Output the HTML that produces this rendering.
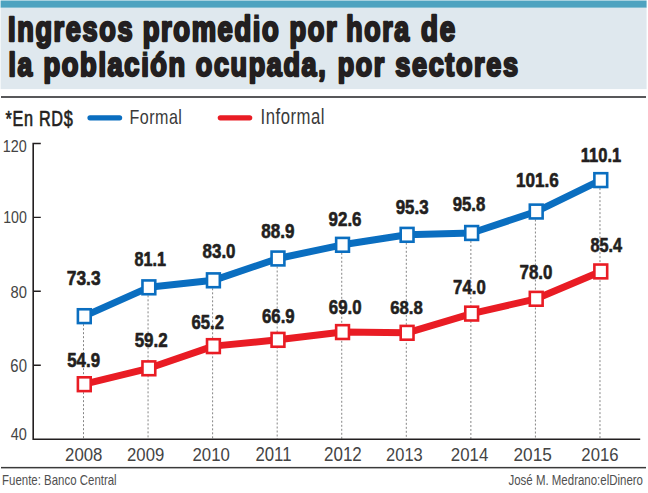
<!DOCTYPE html>
<html><head><meta charset="utf-8"><style>html,body{margin:0;padding:0;background:#fff;width:648px;height:493px;overflow:hidden}svg{display:block}</style></head>
<body><svg width="648" height="493" viewBox="0 0 648 493" font-family="Liberation Sans" font-size="100">
<rect x="0" y="0" width="648" height="493" fill="#fff"/>
<rect x="0.6" y="0.5" width="646" height="7.3" fill="#4ea3c0"/>
<rect x="0.6" y="7.8" width="646" height="81.3" fill="#dfe8ee"/>
<rect x="1" y="96" width="645" height="2" fill="#58585a"/>
<line x1="90.0" y1="117.8" x2="119.6" y2="117.8" stroke="#0a6ec0" stroke-width="5.2" stroke-linecap="round"/>
<line x1="220.3" y1="117.8" x2="249.7" y2="117.8" stroke="#e91c24" stroke-width="5.2" stroke-linecap="round"/>
<g stroke="#858585" stroke-width="1" stroke-dasharray="2 2"><line x1="83.50" y1="316.17" x2="83.50" y2="439" /><line x1="148.06" y1="287.33" x2="148.06" y2="439" /><line x1="212.62" y1="280.31" x2="212.62" y2="439" /><line x1="277.18" y1="258.49" x2="277.18" y2="439" /><line x1="341.74" y1="244.81" x2="341.74" y2="439" /><line x1="406.30" y1="234.83" x2="406.30" y2="439" /><line x1="470.86" y1="232.98" x2="470.86" y2="439" /><line x1="535.42" y1="211.53" x2="535.42" y2="439" /><line x1="599.98" y1="180.11" x2="599.98" y2="439" /></g>
<path d="M40.8 143.5 H33.2 V439.2 H640.2" fill="none" stroke="#231f20" stroke-width="1.6"/>
<path d="M33.2 217.4 H40.8 M33.2 291.3 H40.8 M33.2 365.3 H40.8" fill="none" stroke="#231f20" stroke-width="1.4"/>
<rect x="1" y="466.9" width="645" height="1.5" fill="#3a3a3a"/>
<polyline points="84.30,316.17 148.86,287.33 213.42,280.31 277.98,258.49 342.54,244.81 407.10,234.83 471.66,232.98 536.22,211.53 600.78,180.11" fill="none" stroke="#0a6ec0" stroke-width="7.0" stroke-linejoin="round"/>
<polyline points="84.30,384.21 148.86,368.31 213.42,346.12 277.98,339.84 342.54,332.07 407.10,332.81 471.66,313.59 536.22,298.80 600.78,271.43" fill="none" stroke="#e91c24" stroke-width="7.0" stroke-linejoin="round"/>
<rect x="77.90" y="309.27" width="12.8" height="13.8" fill="#fff" stroke="#0a6ec0" stroke-width="2.6"/><rect x="142.46" y="280.43" width="12.8" height="13.8" fill="#fff" stroke="#0a6ec0" stroke-width="2.6"/><rect x="207.02" y="273.41" width="12.8" height="13.8" fill="#fff" stroke="#0a6ec0" stroke-width="2.6"/><rect x="271.58" y="251.59" width="12.8" height="13.8" fill="#fff" stroke="#0a6ec0" stroke-width="2.6"/><rect x="336.14" y="237.91" width="12.8" height="13.8" fill="#fff" stroke="#0a6ec0" stroke-width="2.6"/><rect x="400.70" y="227.93" width="12.8" height="13.8" fill="#fff" stroke="#0a6ec0" stroke-width="2.6"/><rect x="465.26" y="226.08" width="12.8" height="13.8" fill="#fff" stroke="#0a6ec0" stroke-width="2.6"/><rect x="529.82" y="204.63" width="12.8" height="13.8" fill="#fff" stroke="#0a6ec0" stroke-width="2.6"/><rect x="594.38" y="173.21" width="12.8" height="13.8" fill="#fff" stroke="#0a6ec0" stroke-width="2.6"/>
<rect x="77.90" y="377.31" width="12.8" height="13.8" fill="#fff" stroke="#e91c24" stroke-width="2.6"/><rect x="142.46" y="361.41" width="12.8" height="13.8" fill="#fff" stroke="#e91c24" stroke-width="2.6"/><rect x="207.02" y="339.22" width="12.8" height="13.8" fill="#fff" stroke="#e91c24" stroke-width="2.6"/><rect x="271.58" y="332.94" width="12.8" height="13.8" fill="#fff" stroke="#e91c24" stroke-width="2.6"/><rect x="336.14" y="325.17" width="12.8" height="13.8" fill="#fff" stroke="#e91c24" stroke-width="2.6"/><rect x="400.70" y="325.91" width="12.8" height="13.8" fill="#fff" stroke="#e91c24" stroke-width="2.6"/><rect x="465.26" y="306.69" width="12.8" height="13.8" fill="#fff" stroke="#e91c24" stroke-width="2.6"/><rect x="529.82" y="291.90" width="12.8" height="13.8" fill="#fff" stroke="#e91c24" stroke-width="2.6"/><rect x="594.38" y="264.53" width="12.8" height="13.8" fill="#fff" stroke="#e91c24" stroke-width="2.6"/>
<text transform="matrix(0.27121 0 0 0.34306 8.086 40.800)" font-weight="bold" letter-spacing="6" fill="#231f20" stroke="#231f20" stroke-width="7" stroke-linejoin="round">Ingresos</text><text transform="matrix(0.27348 0 0 0.34306 142.680 40.800)" font-weight="bold" letter-spacing="6" fill="#231f20" stroke="#231f20" stroke-width="7" stroke-linejoin="round">promedıo</text><text transform="matrix(0.27348 0 0 0.34306 142.680 40.800)" font-weight="bold" letter-spacing="6" fill="#231f20" stroke="#231f20" stroke-width="2.5">promedio</text><text transform="matrix(0.27267 0 0 0.34306 289.382 40.800)" font-weight="bold" letter-spacing="6" fill="#231f20" stroke="#231f20" stroke-width="7" stroke-linejoin="round">por</text><text transform="matrix(0.26737 0 0 0.34306 346.298 40.800)" font-weight="bold" letter-spacing="6" fill="#231f20" stroke="#231f20" stroke-width="7" stroke-linejoin="round">hora</text><text transform="matrix(0.27787 0 0 0.34306 421.122 40.800)" font-weight="bold" letter-spacing="6" fill="#231f20" stroke="#231f20" stroke-width="7" stroke-linejoin="round">de</text><text transform="matrix(0.26444 0 0 0.33750 8.507 76.200)" font-weight="bold" letter-spacing="6" fill="#231f20" stroke="#231f20" stroke-width="7" stroke-linejoin="round">la</text><text transform="matrix(0.27243 0 0 0.33750 43.583 76.200)" font-weight="bold" letter-spacing="6" fill="#231f20" stroke="#231f20" stroke-width="7" stroke-linejoin="round">poblacıón</text><text transform="matrix(0.27243 0 0 0.33750 43.583 76.200)" font-weight="bold" letter-spacing="6" fill="#231f20" stroke="#231f20" stroke-width="2.5">población</text><text transform="matrix(0.27008 0 0 0.33750 195.800 76.200)" font-weight="bold" letter-spacing="6" fill="#231f20" stroke="#231f20" stroke-width="7" stroke-linejoin="round">ocupada,</text><text transform="matrix(0.26919 0 0 0.33750 337.692 76.200)" font-weight="bold" letter-spacing="6" fill="#231f20" stroke="#231f20" stroke-width="7" stroke-linejoin="round">por</text><text transform="matrix(0.27064 0 0 0.33750 395.300 76.200)" font-weight="bold" letter-spacing="6" fill="#231f20" stroke="#231f20" stroke-width="7" stroke-linejoin="round">sectores</text><text transform="matrix(0.16247 0 0 0.21286 5.600 125.700)" font-weight="normal" letter-spacing="4" fill="#231f20" stroke="#231f20" stroke-width="3" stroke-linejoin="round">*En RD$</text><text transform="matrix(0.16122 0 0 0.20274 129.410 123.900)" font-weight="normal" letter-spacing="3" fill="#3a3a3a">Formal</text><text transform="matrix(0.16703 0 0 0.21884 260.597 124.000)" font-weight="normal" letter-spacing="3" fill="#3a3a3a">Informal</text><text transform="matrix(0.14387 0 0 0.16232 2.849 151.700)" font-weight="normal" letter-spacing="0" fill="#444444">120</text><text transform="matrix(0.14194 0 0 0.16667 3.165 223.200)" font-weight="normal" letter-spacing="0" fill="#444444">100</text><text transform="matrix(0.14757 0 0 0.17000 10.510 297.600)" font-weight="normal" letter-spacing="0" fill="#444444">80</text><text transform="matrix(0.14902 0 0 0.17571 10.355 371.600)" font-weight="normal" letter-spacing="0" fill="#444444">60</text><text transform="matrix(0.14476 0 0 0.16087 10.810 440.200)" font-weight="normal" letter-spacing="0" fill="#444444">40</text><text transform="matrix(0.16808 0 0 0.19286 65.060 460.800)" font-weight="normal" letter-spacing="0" fill="#444444">2008</text><text transform="matrix(0.16714 0 0 0.19286 127.064 460.800)" font-weight="normal" letter-spacing="0" fill="#444444">2009</text><text transform="matrix(0.16808 0 0 0.19286 192.460 460.800)" font-weight="normal" letter-spacing="0" fill="#444444">2010</text><text transform="matrix(0.16780 0 0 0.19286 255.461 460.800)" font-weight="normal" letter-spacing="0" fill="#444444">2011</text><text transform="matrix(0.17028 0 0 0.19286 323.949 460.800)" font-weight="normal" letter-spacing="0" fill="#444444">2012</text><text transform="matrix(0.16479 0 0 0.19286 386.076 460.800)" font-weight="normal" letter-spacing="0" fill="#444444">2013</text><text transform="matrix(0.16869 0 0 0.19286 450.857 460.800)" font-weight="normal" letter-spacing="0" fill="#444444">2014</text><text transform="matrix(0.17230 0 0 0.19286 513.538 460.800)" font-weight="normal" letter-spacing="0" fill="#444444">2015</text><text transform="matrix(0.16714 0 0 0.19286 581.364 460.800)" font-weight="normal" letter-spacing="0" fill="#444444">2016</text><text transform="matrix(0.17354 0 0 0.20704 66.779 285.100)" font-weight="bold" letter-spacing="0" fill="#231f20" stroke="#231f20" stroke-width="3" stroke-linejoin="round">73.3</text><text transform="matrix(0.16230 0 0 0.20986 134.475 265.500)" font-weight="bold" letter-spacing="0" fill="#231f20" stroke="#231f20" stroke-width="3" stroke-linejoin="round">81.1</text><text transform="matrix(0.16947 0 0 0.20000 202.561 258.300)" font-weight="bold" letter-spacing="0" fill="#231f20" stroke="#231f20" stroke-width="3" stroke-linejoin="round">83.0</text><text transform="matrix(0.17053 0 0 0.20704 261.259 237.800)" font-weight="bold" letter-spacing="0" fill="#231f20" stroke="#231f20" stroke-width="3" stroke-linejoin="round">88.9</text><text transform="matrix(0.16947 0 0 0.20423 328.561 225.900)" font-weight="bold" letter-spacing="0" fill="#231f20" stroke="#231f20" stroke-width="3" stroke-linejoin="round">92.6</text><text transform="matrix(0.16895 0 0 0.20000 395.662 213.800)" font-weight="bold" letter-spacing="0" fill="#231f20" stroke="#231f20" stroke-width="3" stroke-linejoin="round">95.3</text><text transform="matrix(0.16754 0 0 0.19577 452.665 211.400)" font-weight="bold" letter-spacing="0" fill="#231f20" stroke="#231f20" stroke-width="3" stroke-linejoin="round">95.8</text><text transform="matrix(0.17119 0 0 0.20563 516.044 187.100)" font-weight="bold" letter-spacing="0" fill="#231f20" stroke="#231f20" stroke-width="3" stroke-linejoin="round">101.6</text><text transform="matrix(0.16513 0 0 0.20986 580.774 161.800)" font-weight="bold" letter-spacing="0" fill="#231f20" stroke="#231f20" stroke-width="3" stroke-linejoin="round">110.1</text><text transform="matrix(0.16842 0 0 0.20423 67.263 367.100)" font-weight="bold" letter-spacing="0" fill="#231f20" stroke="#231f20" stroke-width="3" stroke-linejoin="round">54.9</text><text transform="matrix(0.17000 0 0 0.20845 134.660 347.000)" font-weight="bold" letter-spacing="0" fill="#231f20" stroke="#231f20" stroke-width="3" stroke-linejoin="round">59.2</text><text transform="matrix(0.16684 0 0 0.20563 191.466 329.200)" font-weight="bold" letter-spacing="0" fill="#231f20" stroke="#231f20" stroke-width="3" stroke-linejoin="round">65.2</text><text transform="matrix(0.16789 0 0 0.20563 261.964 323.000)" font-weight="bold" letter-spacing="0" fill="#231f20" stroke="#231f20" stroke-width="3" stroke-linejoin="round">66.9</text><text transform="matrix(0.16842 0 0 0.19296 328.763 313.700)" font-weight="bold" letter-spacing="0" fill="#231f20" stroke="#231f20" stroke-width="3" stroke-linejoin="round">69.0</text><text transform="matrix(0.16754 0 0 0.19296 390.165 313.700)" font-weight="bold" letter-spacing="0" fill="#231f20" stroke="#231f20" stroke-width="3" stroke-linejoin="round">68.8</text><text transform="matrix(0.16772 0 0 0.19718 453.097 294.300)" font-weight="bold" letter-spacing="0" fill="#231f20" stroke="#231f20" stroke-width="3" stroke-linejoin="round">74.0</text><text transform="matrix(0.16931 0 0 0.20563 519.492 278.700)" font-weight="bold" letter-spacing="0" fill="#231f20" stroke="#231f20" stroke-width="3" stroke-linejoin="round">78.0</text><text transform="matrix(0.16289 0 0 0.20563 590.474 251.800)" font-weight="bold" letter-spacing="0" fill="#231f20" stroke="#231f20" stroke-width="3" stroke-linejoin="round">85.4</text><text transform="matrix(0.11460 0 0 0.13768 2.083 484.500)" font-weight="normal" letter-spacing="0" fill="#505050">Fuente: Banco Central</text><text transform="matrix(0.11482 0 0 0.14493 508.470 485.100)" font-weight="normal" letter-spacing="0" fill="#505050">José M. Medrano:elDinero</text>
</svg></body></html>
